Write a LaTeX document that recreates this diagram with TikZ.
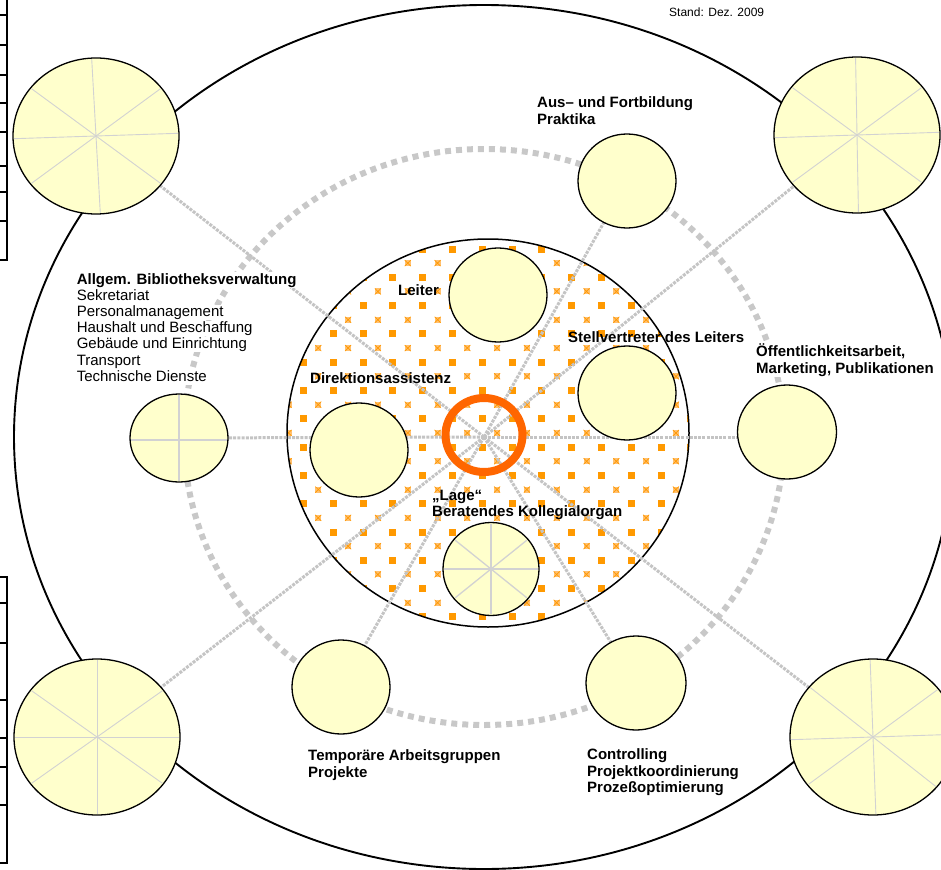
\documentclass[tikz,border=0pt]{standalone}
\usepackage{fontspec}
\setmainfont{Liberation Sans}
\usetikzlibrary{shapes.geometric,calc}
\definecolor{ylw}{HTML}{FFFFCC}
\definecolor{ringgray}{HTML}{C8C8C8}
\definecolor{spokegray}{HTML}{C4C4C4}
\definecolor{sqor}{HTML}{FF9900}
\definecolor{xor}{HTML}{FFC070}
\definecolor{orring}{HTML}{FF6600}
\definecolor{spk}{HTML}{D2D2D2}
\tikzset{
  ycirc/.style={ellipse, draw=black, line width=1.3pt, fill=ylw, inner sep=0pt},
  smallc/.style={ycirc, minimum width=98pt, minimum height=94pt},
  bigc/.style={ycirc, minimum width=166pt, minimum height=156pt},
  spoke/.style={draw=spokegray, line width=3pt, dash pattern=on 3pt off 1.2pt},
  innerspk/.style={draw=spk, line width=0.9pt},
  lbl/.style={anchor=west, align=left, inner sep=0pt, text=black, font=\fontsize{15}{16.2}\selectfont},
  blbl/.style={lbl, font=\fontsize{15}{16.6}\selectfont\bfseries},
  linelbl/.style={lbl, fill=white, inner sep=0.6pt, text height=11pt, text depth=3pt},
  ruler/.style={draw=black, line width=1.4pt},
}
\begin{document}
\begin{tikzpicture}[x=1pt,y=-1pt]
\useasboundingbox (0,0) rectangle (941,869);
% centres
\coordinate (c) at (484,437);
\coordinate (tlc) at (96,136);
\coordinate (trc) at (857,135);
\coordinate (blc) at (97,737);
\coordinate (brc) at (873,737);
\coordinate (leiterc) at (498,295);
\coordinate (stellc) at (627,393);
\coordinate (direkc) at (359,450);
\coordinate (lagec) at (491,569);
\coordinate (ausc) at (627,181);
\coordinate (oeffc) at (787,432);
\coordinate (allgc) at (179,438);
\coordinate (tempc) at (341,687);
\coordinate (contc) at (636,683);

% left ruler fragments
\draw[ruler] (7,0) -- (7,260) -- (0,260);
\foreach \t in {15,45,75,103,132,166,192,221}{\draw[ruler] (0,\t) -- (7,\t);}
\draw[ruler] (0,577) -- (7,577) -- (7,863) -- (0,863);
\foreach \t in {603,643,700,738,767,805}{\draw[ruler] (0,\t) -- (7,\t);}

% outer ellipse
\draw[black, line width=1.9pt] (c) ellipse [x radius=470pt, y radius=432pt];
% grey dotted ring
\draw[ringgray, line width=6pt, dash pattern=on 6pt off 5pt] (c) ellipse [x radius=300pt, y radius=288pt];

% inner patterned disc
\fill[white] (488,433) ellipse [x radius=201pt, y radius=194pt];
\begin{scope}
\clip (488,433) ellipse [x radius=201pt, y radius=194pt];
\foreach \i in {-3,...,11}{
  \foreach \j in {-1,...,13}{
    \fill[sqor] ({363+29.8*\i-3.5},{249+28.3*\j-3.5}) rectangle ++(7,7);
    \fill[xor] ({348.1+29.8*\i-3},{234.85+28.3*\j-3}) rectangle ++(6,6);
    \draw[sqor, line width=0.7pt] ({348.1+29.8*\i-3},{234.85+28.3*\j-3}) -- ++(6,6)
      ({348.1+29.8*\i+3},{234.85+28.3*\j-3}) -- ++(-6,6);
  }
}
\end{scope}
\draw[black, line width=1.5pt] (488,433) ellipse [x radius=201pt, y radius=194pt];

% spokes from the centre
\foreach \e in {tlc,trc,blc,brc,ausc,tempc,contc}{\draw[spoke] (c) -- (\e);}
\draw[spoke] (c) -- (allgc);
\draw[spoke] (c) -- (oeffc |- c);

% orange ring
\draw[orring, line width=8pt] (484,435) ellipse [x radius=38.5pt, y radius=37pt];

% circles
\node[bigc] (tl) at (tlc) {};
\node[bigc] (tr) at (trc) {};
\node[bigc] (bl) at (blc) {};
\node[bigc] (br) at (brc) {};
\node[smallc] (leiter) at (leiterc) {};
\node[smallc] (stell) at (stellc) {};
\node[smallc] (direk) at (direkc) {};
\node[smallc, minimum width=96pt, minimum height=93pt] (lage) at (lagec) {};
\node[smallc] (aus) at (ausc) {};
\node[smallc, minimum width=99pt] (oeff) at (oeffc) {};
\node[smallc, minimum height=88pt] (allg) at (allgc) {};
\node[smallc] (temp) at (tempc) {};
\node[smallc, minimum width=100pt] (cont) at (contc) {};

% inner spokes of the big circles
\foreach \n/\a/\b/\cc/\d in {tlc/2/38/93/142, trc/2/38/91/142, blc/0/37/90/143, brc/2/38/92/140}{
  \foreach \ang in {\a,\b,\cc,\d}{
    \draw[innerspk] ($(\n)+({82*cos(\ang)},{-77*sin(\ang)})$) -- ($(\n)-({82*cos(\ang)},{-77*sin(\ang)})$);
  }
}
\foreach \ang in {0,40,90,140}{
  \draw[innerspk, line width=1.3pt] ($(lagec)+({47*cos(\ang)},{-45*sin(\ang)})$) -- ($(lagec)-({47*cos(\ang)},{-45*sin(\ang)})$);
}
\draw[innerspk, line width=1.5pt] ($(allgc)+(-48,2)$) -- ($(allgc)+(48,2)$);
\draw[innerspk, line width=1.5pt] ($(allgc)+(0,-43)$) -- ($(allgc)+(0,43)$);

% labels
\node[lbl, font=\fontsize{12}{14}\selectfont] (stand) at (669,12) {Stand: Dez. 2009};
\node[blbl] (lausbild) at (537,110.5) {Aus– und Fortbildung\\Praktika};
\node[blbl] (lleiter) at (398,290) {Leiter};
\node[blbl] (lstell) at (568,337) {Stellvertreter des Leiters};
\node[blbl] (ldirek) at (310,378) {Direktionsassistenz};
\node[blbl] (llage) at (432,505) {„Lage“\\Beratendes Kollegialorgan};
\node[blbl, fill=white, inner sep=1pt] (loeff) at (755,360) {Öffentlichkeitsarbeit,\\Marketing, Publikationen};
\node[linelbl, font=\fontsize{15}{16.2}\selectfont\bfseries] (lallg1) at (76,280) {Allgem. Bibliotheksverwaltung};
\node[linelbl] (lallg2) at (76,296.2) {Sekretariat};
\node[linelbl] (lallg3) at (76,312.4) {Personalmanagement};
\node[linelbl] (lallg4) at (76,328.6) {Haushalt und Beschaffung};
\node[linelbl] (lallg5) at (76,344.8) {Gebäude und Einrichtung};
\node[linelbl] (lallg6) at (76,361) {Transport};
\node[linelbl] (lallg7) at (76,377.2) {Technische Dienste};
\node[blbl] (ltemp) at (308,765) {Temporäre Arbeitsgruppen\\Projekte};
\node[blbl] (lcont) at (587,772.5) {Controlling\\Projektkoordinierung\\Prozeßoptimierung};
\end{tikzpicture}
\end{document}
